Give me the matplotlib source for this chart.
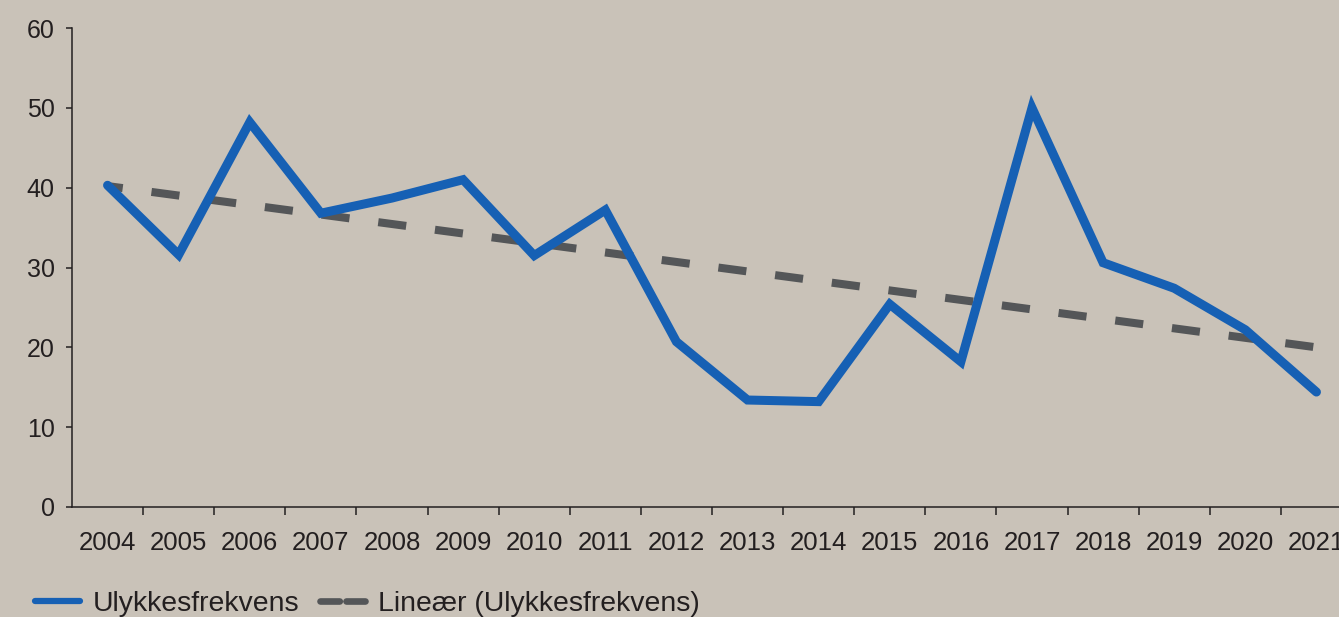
import numpy as np
import matplotlib
matplotlib.use("Agg")
from matplotlib import pyplot as plt
from matplotlib.lines import Line2D

years = ['2004', '2005', '2006', '2007', '2008', '2009', '2010', '2011', '2012',
         '2013', '2014', '2015', '2016', '2017', '2018', '2019', '2020', '2021']
frekvens = [40.3, 31.6, 48.2, 36.8, 38.7, 41.0, 31.5, 37.2, 20.7,
            13.4, 13.2, 25.4, 18.2, 50.0, 30.6, 27.4, 22.2, 14.4]
# trend line as drawn in the chart (value at first and last year)
trend_ends = [40.2, 20.0]

plt.rcParams['font.family'] = ['Liberation Sans', 'DejaVu Sans']

bg = '#c9c2b8'
ink = '#231f20'
blue = '#1660b4'
grey = '#545658'

fig = plt.figure(figsize=(13.39, 6.17), dpi=100, facecolor=bg)
ax = fig.add_axes([72 / 1339, 110 / 617, 1280 / 1339, 479 / 617])
ax.set_facecolor(bg)

x = np.arange(len(years))

ax.plot(x, frekvens, color=blue, lw=6.5, solid_joinstyle='miter',
        solid_capstyle='round', zorder=3)
ax.plot([x[0], x[-1]], trend_ends, color=grey, lw=5.8,
        linestyle=(1.6, (3.5, 3.6)), dash_capstyle='butt', zorder=2)

ax.set_xlim(-0.5, 17.5)
ax.set_ylim(0, 60)
ax.set_yticks(range(0, 61, 10))
ax.set_xticks(x)
ax.set_xticklabels(years)
ax.set_xticks(np.arange(0.5, 17, 1), minor=True)

for s in ['top', 'right']:
    ax.spines[s].set_visible(False)
for s in ['left', 'bottom']:
    ax.spines[s].set_color(ink)
    ax.spines[s].set_linewidth(1.1)

ax.tick_params(axis='y', length=4.5, width=1.1, color=ink, labelsize=18,
               labelcolor=ink, pad=8)
ax.tick_params(axis='x', which='major', length=0, labelsize=18.5,
               labelcolor=ink, pad=17)
ax.tick_params(axis='x', which='minor', length=6, width=1.1, color=ink)

handles = [
    Line2D([], [], color=blue, lw=4.5, solid_capstyle='round'),
    Line2D([], [], color=grey, lw=4.8, linestyle=(0, (2.9, 1.0)),
           dash_capstyle='round'),
]
labels = ['Ulykkesfrekvens', 'Lineær (Ulykkesfrekvens)']
fig.legend(handles, labels, loc='lower left', bbox_to_anchor=(35 / 1339, 0.0),
           ncol=2, frameon=False, fontsize=20.4, handlelength=1.6,
           handletextpad=0.45, columnspacing=0.7, borderpad=0,
           borderaxespad=0, labelcolor=ink)

plt.savefig('out.png', dpi=100, facecolor=bg)
